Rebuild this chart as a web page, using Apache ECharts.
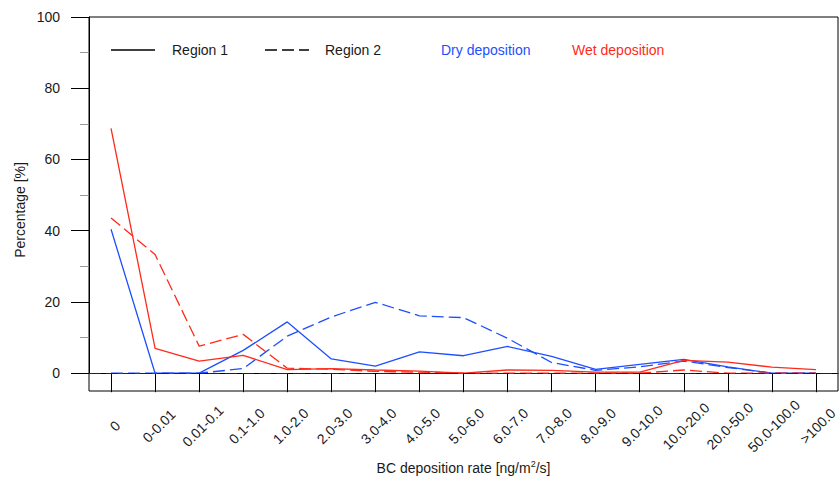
<!DOCTYPE html>
<html>
<head>
<meta charset="utf-8">
<script src="https://cdn.jsdelivr.net/npm/echarts@6/dist/echarts.min.js"></script>
<style>
html,body{margin:0;padding:0;background:#fff;}
#chart{width:840px;height:482px;}
</style>
</head>
<body>
<div id="chart"></div>
<script>
// ---- data ----
var categories = ['0','0-0.01','0.01-0.1','0.1-1.0','1.0-2.0','2.0-3.0','3.0-4.0','4.0-5.0','5.0-6.0','6.0-7.0','7.0-8.0','8.0-9.0','9.0-10.0','10.0-20.0','20.0-50.0','50.0-100.0','>100.0'];
var dryRegion1 = [40.4, 0, 0, 6.4, 14.4, 4.0, 2.0, 6.0, 4.9, 7.5, 4.7, 1.1, 2.5, 3.9, 1.8, 0, 0];
var dryRegion2 = [0, 0, 0, 1.3, 10.4, 15.8, 19.9, 16.1, 15.6, 9.8, 3.0, 0.8, 1.8, 3.4, 1.6, 0, 0];
var wetRegion1 = [68.7, 7.0, 3.4, 5.0, 1.0, 1.3, 0.9, 0.6, 0, 0.9, 0.8, 0.3, 0.3, 3.6, 3.1, 1.7, 1.0];
var wetRegion2 = [43.6, 33.3, 7.6, 10.9, 1.4, 1.1, 0.5, 0.3, 0, 0, 0, 0, 0, 0.9, 0, 0, 0];
var yTicks = [0, 20, 40, 60, 80, 100];

var BLUE = '#1e4fff';
var RED = '#ff2a1a';
var TXT = '#1a1a1a';
var FONT = 'Liberation Sans, Arial, Helvetica, sans-serif';
var DASH = [12, 5];

var chart = echarts.init(document.getElementById('chart'), null, {renderer: 'svg'});

function lineSeries(name, data, color, dashed) {
  return {
    name: name, type: 'line', data: data, xAxisIndex: 0, yAxisIndex: 0,
    symbol: 'none', silent: true, animation: false,
    lineStyle: {color: color, width: 1.3, type: dashed ? DASH : 'solid'},
    itemStyle: {color: color}
  };
}

var s0 = lineSeries('Dry deposition, Region 1', dryRegion1, BLUE, false);
s0.markLine = {
  silent: true, symbol: ['none', 'none'], label: {show: false}, animation: false,
  lineStyle: {color: '#222', width: 1, type: DASH},
  data: [{yAxis: 0}]
};

var option = {
  backgroundColor: '#fff',
  animation: false,
  textStyle: {fontFamily: FONT},
  grid: [
    {left: 89, right: 2, top: 17, bottom: 91, show: true, borderColor: '#000', borderWidth: 1, backgroundColor: 'transparent'},
    {left: 89, right: 2, top: 17, bottom: 108.8},
    {left: 93, width: 749, top: 29, bottom: 91}
  ],
  xAxis: [
    {gridIndex: 0, type: 'category', data: categories, boundaryGap: true,
     axisLine: {show: true, lineStyle: {color: '#000', width: 1}},
     axisTick: {show: true, alignWithLabel: true, interval: 0, length: 19, lineStyle: {color: '#000', width: 1}},
     axisLabel: {show: false}, splitLine: {show: false},
     name: 'BC deposition rate [ng/m{sup|2}/s]', nameLocation: 'middle', nameGap: 68,
     nameTextStyle: {fontSize: 14, color: TXT, fontFamily: FONT, lineHeight: 17,
       rich: {sup: {fontSize: 9, lineHeight: 17, verticalAlign: 'top', padding: [0, 0, 8, 0], color: TXT, fontFamily: FONT}}}
    },
    {gridIndex: 1, type: 'category', data: categories, show: false},
    {gridIndex: 2, type: 'category', data: categories, boundaryGap: true,
     axisLine: {show: false}, axisTick: {show: false}, splitLine: {show: false},
     axisLabel: {show: true, interval: 0, rotate: 45, align: 'center', verticalAlign: 'middle', margin: 35,
       fontSize: 14, color: TXT, fontFamily: FONT}
    }
  ],
  yAxis: [
    {gridIndex: 0, type: 'value', min: -5, max: 100, show: false},
    {gridIndex: 1, type: 'value', min: yTicks[0], max: yTicks[yTicks.length - 1], interval: 20,
     axisLine: {show: true, lineStyle: {color: '#000', width: 1}},
     axisTick: {show: true, length: 18, lineStyle: {color: '#000', width: 1}},
     minorTick: {show: true, splitNumber: 2, length: 9, lineStyle: {color: '#999', width: 1}},
     axisLabel: {show: true, margin: 29, fontSize: 14, color: TXT, fontFamily: FONT},
     splitLine: {show: false}, minorSplitLine: {show: false}
    },
    {gridIndex: 2, type: 'value', min: -5, max: 100,
     axisLine: {show: false}, axisTick: {show: false}, axisLabel: {show: false}, splitLine: {show: false},
     name: 'Percentage [%]', nameLocation: 'middle', nameGap: 66,
     nameTextStyle: {fontSize: 14, color: TXT, fontFamily: FONT}
    }
  ],
  graphic: [
    {type: 'line', shape: {x1: 111, y1: 50, x2: 155, y2: 50}, style: {stroke: '#000', lineWidth: 1.3}, silent: true},
    {type: 'text', x: 172, y: 50, style: {text: 'Region 1', fill: TXT, font: '14px ' + FONT, verticalAlign: 'middle', align: 'left'}, silent: true},
    {type: 'line', shape: {x1: 265, y1: 50, x2: 309, y2: 50}, style: {stroke: '#000', lineWidth: 1.3, lineDash: DASH}, silent: true},
    {type: 'text', x: 325, y: 50, style: {text: 'Region 2', fill: TXT, font: '14px ' + FONT, verticalAlign: 'middle', align: 'left'}, silent: true},
    {type: 'text', x: 441, y: 50, style: {text: 'Dry deposition', fill: BLUE, font: '14px ' + FONT, verticalAlign: 'middle', align: 'left'}, silent: true},
    {type: 'text', x: 572, y: 50, style: {text: 'Wet deposition', fill: RED, font: '14px ' + FONT, verticalAlign: 'middle', align: 'left'}, silent: true}
  ],
  series: [
    s0,
    lineSeries('Dry deposition, Region 2', dryRegion2, BLUE, true),
    lineSeries('Wet deposition, Region 1', wetRegion1, RED, false),
    lineSeries('Wet deposition, Region 2', wetRegion2, RED, true)
  ]
};
chart.setOption(option);
</script>
</body>
</html>
